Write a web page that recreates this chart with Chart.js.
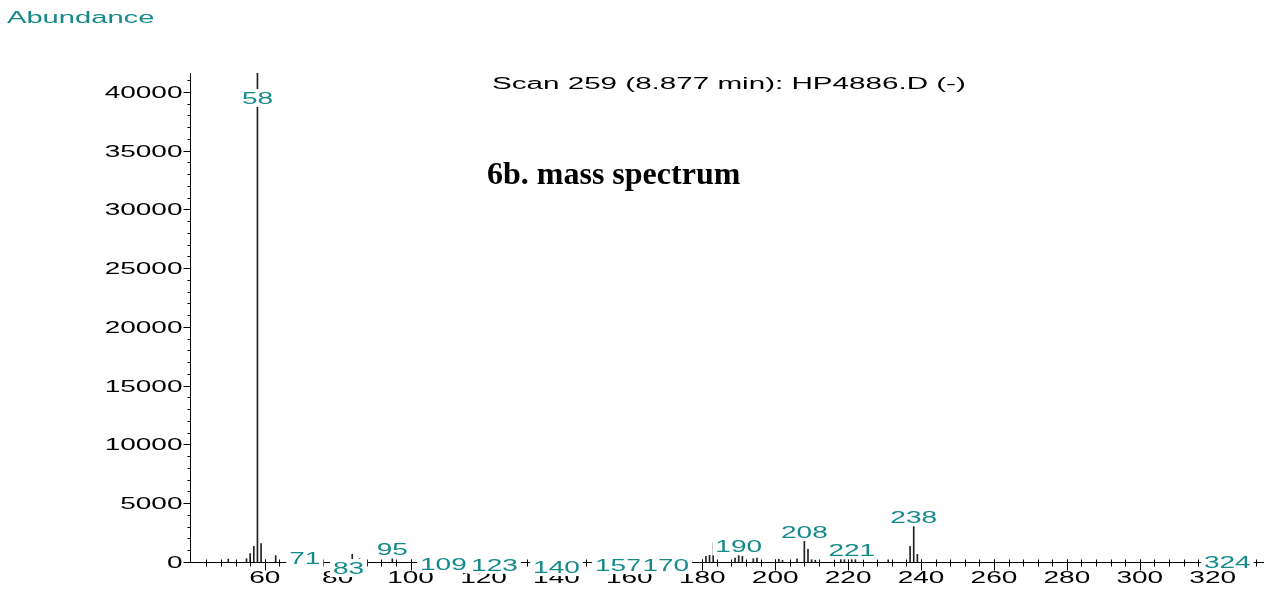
<!DOCTYPE html>
<html>
<head>
<meta charset="utf-8">
<title>6b. mass spectrum</title>
<script src="https://cdn.jsdelivr.net/npm/chart.js@4.4.0/dist/chart.umd.min.js"></script>
<style>
  body { margin: 0; background: #fff; }
  #wrap { width: 1268px; height: 590px; }
</style>
</head>
<body>
<div id="wrap"><canvas id="ms-chart" width="1268" height="590"></canvas></div>
<script>
// m/z values and their abundances
const masses = [50, 55, 56, 57, 58, 59, 63, 71, 83, 84, 86, 95, 109, 123, 140, 157, 170, 177,
    181, 182, 183, 189, 190, 191, 194, 195, 201, 202, 206, 208, 209, 210, 211,
    218, 219, 221, 222, 231, 237, 238, 239, 324];
const abundances = [250, 280, 710, 1330, 41600, 1560, 540, 80, 80, 650, 280, 300, 80, 100, 80, 80, 80, 200,
    480, 570, 1620, 340, 570, 480, 280, 340, 230, 150, 280, 1790, 1080, 200, 150,
    230, 230, 230, 230, 180, 1330, 3040, 650, 80];

// peaks that carry an m/z label
const labeledMasses = [58, 71, 83, 95, 109, 123, 140, 157, 170, 190, 208, 221, 238, 324];

// axis tick labels
const xTickLabels = [60, 80, 100, 120, 140, 160, 180, 200, 220, 240, 260, 280, 300, 320];
const yTickLabels = [0, 5000, 10000, 15000, 20000, 25000, 30000, 35000, 40000];

const teal = '#168a8a';

// the original print is stretched sideways, so text is drawn wide
function wideText(ctx, text, x, y, align, size, stretch, color) {
    ctx.save();
    ctx.font = size + 'px "Liberation Sans", Arial, sans-serif';
    ctx.textBaseline = 'alphabetic';
    ctx.textAlign = 'left';
    const w = ctx.measureText(text).width * stretch;
    let left = x;
    if (align === 'center') left = x - w / 2;
    else if (align === 'right') left = x - w;
    ctx.translate(left, y);
    ctx.scale(stretch, 1);
    ctx.fillStyle = color;
    ctx.fillText(text, 0, 0);
    ctx.restore();
    return { left: left, width: w };
}

// small labels sitting on the baseline were pushed down by the instrument software
const labelDrop = { 71: 6, 83: 16, 109: 12, 123: 13, 140: 15, 157: 13, 170: 13, 324: 10 };

const spectrumDecor = {
    id: 'spectrumDecor',
    afterDraw(chart) {
        const ctx = chart.ctx;
        const x = chart.scales.x;
        const y = chart.scales.y;
        const area = chart.chartArea;
        const axisY = Math.round(area.bottom) + 0.5;
        const axisX = Math.round(area.left) + 0.5;

        ctx.save();
        ctx.strokeStyle = '#000';
        ctx.lineWidth = 1;

        // x ticks: minor every 4, major at labels
        ctx.beginPath();
        for (let m = 44; m <= x.max; m += 4) {
            const px = Math.round(x.getPixelForValue(m)) + 0.5;
            ctx.moveTo(px, axisY - 3);
            ctx.lineTo(px, axisY + 4);
        }
        xTickLabels.forEach(function(v) {
            const px = Math.round(x.getPixelForValue(v)) + 0.5;
            ctx.moveTo(px, axisY - 3);
            ctx.lineTo(px, axisY + 8);
        });
        // y ticks: minor every 1000, major at labels
        for (let v = 1000; v <= y.max; v += 1000) {
            const py = Math.round(y.getPixelForValue(v)) + 0.5;
            ctx.moveTo(axisX - 3, py);
            ctx.lineTo(axisX, py);
        }
        yTickLabels.forEach(function(v) {
            const py = Math.round(y.getPixelForValue(v)) + 0.5;
            ctx.moveTo(axisX - 7, py);
            ctx.lineTo(axisX, py);
        });
        ctx.stroke();

        xTickLabels.forEach(function(v) {
            wideText(ctx, String(v), x.getPixelForValue(v), area.bottom + 21, 'center', 16, 1.75, '#000');
        });
        yTickLabels.forEach(function(v) {
            wideText(ctx, String(v), axisX - 8, y.getPixelForValue(v) + 6, 'right', 16, 1.75, '#000');
        });

        // peak labels on white boxes
        labeledMasses.forEach(function(m) {
            const i = masses.indexOf(m);
            const top = y.getPixelForValue(abundances[i]);
            let base = Math.max(top - 3, area.top + 31);
            base += labelDrop[m] || 0;
            const cx = x.getPixelForValue(m);
            ctx.font = '16px "Liberation Sans", Arial, sans-serif';
            const w = ctx.measureText(String(m)).width * 1.75;
            ctx.fillStyle = '#fff';
            ctx.fillRect(cx - w / 2 - 3, base - 15, w + 6, 18);
            wideText(ctx, String(m), cx, base, 'center', 16, 1.75, teal);
        });

        // headings
        wideText(ctx, 'Abundance', 7, 23, 'left', 16, 1.82, teal);
        wideText(ctx, 'Scan 259 (8.877 min): HP4886.D (-)', 492, 89, 'left', 16, 1.85, '#000');
        ctx.font = 'bold 32px "Liberation Serif", "Times New Roman", serif';
        ctx.fillStyle = '#000';
        ctx.textBaseline = 'alphabetic';
        ctx.textAlign = 'left';
        ctx.fillText('6b. mass spectrum', 487, 184);
        ctx.restore();
    }
};

const ctx = document.getElementById('ms-chart').getContext('2d');
new Chart(ctx, {
    type: 'bar',
    data: {
        datasets: [{
            label: 'Abundance',
            data: masses.map(function(m, i) { return { x: m, y: abundances[i] }; }),
            backgroundColor: '#222',
            borderWidth: 0,
            barThickness: 1
        }]
    },
    options: {
        responsive: false,
        animation: false,
        layout: { padding: { left: 190, right: 5, top: 73, bottom: 28 } },
        plugins: {
            legend: { display: false },
            tooltip: { enabled: false }
        },
        scales: {
            x: {
                type: 'linear',
                offset: false,
                min: 39.5,
                max: 333.8,
                grid: { display: false, drawTicks: false, offset: false },
                ticks: { display: false },
                border: { display: true, color: '#000', width: 1 }
            },
            y: {
                min: 0,
                max: 41600,
                grid: { display: false, drawTicks: false },
                ticks: { display: false },
                border: { display: true, color: '#000', width: 1 }
            }
        }
    },
    plugins: [spectrumDecor]
});
</script>
</body>
</html>
